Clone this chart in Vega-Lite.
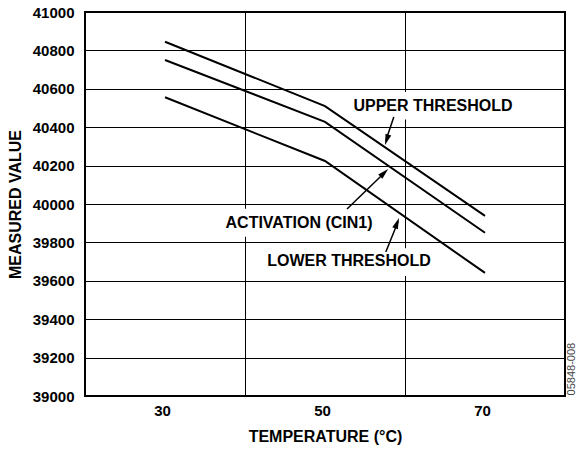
{
  "$schema": "https://vega.github.io/schema/vega-lite/v6.json",
  "width": 480,
  "height": 384,
  "autosize": {"type": "none"},
  "padding": {"left": 85, "top": 12, "right": 15, "bottom": 55},
  "background": "white",
  "config": {
    "view": {"stroke": "black", "strokeWidth": 2},
    "font": "Liberation Sans",
    "axis": {
      "domain": false,
      "ticks": false,
      "grid": true,
      "gridColor": "black",
      "gridWidth": 1,
      "labelFont": "Liberation Sans",
      "labelFontWeight": "bold",
      "labelFontSize": 15,
      "labelColor": "black",
      "labelOverlap": false,
      "titleFont": "Liberation Sans",
      "titleFontWeight": "bold",
      "titleFontSize": 16,
      "titleColor": "black"
    }
  },
  "datasets": {
    "curves": [
      {"series": "Upper", "temp": 30, "value": 40845},
      {"series": "Upper", "temp": 50, "value": 40510},
      {"series": "Upper", "temp": 70, "value": 39938},
      {"series": "Activation", "temp": 30, "value": 40750},
      {"series": "Activation", "temp": 50, "value": 40428},
      {"series": "Activation", "temp": 70, "value": 39850},
      {"series": "Lower", "temp": 30, "value": 40556},
      {"series": "Lower", "temp": 50, "value": 40224},
      {"series": "Lower", "temp": 70, "value": 39641}
    ],
    "boxes": [
      {"x1": 53.4, "x2": 73.8, "y1": 40583, "y2": 40440},
      {"x1": 36.8, "x2": 52.4, "y1": 39975, "y2": 39830},
      {"x1": 40.8, "x2": 64.6, "y1": 39770, "y2": 39625}
    ],
    "labels": [
      {"label": "UPPER THRESHOLD", "temp": 63.5, "value": 40510},
      {"label": "ACTIVATION (CIN1)", "temp": 46.75, "value": 39901},
      {"label": "LOWER THRESHOLD", "temp": 53.0, "value": 39703}
    ],
    "arrows": [
      {"name": "Upper", "x1": 58.6, "y1": 40453, "x2": 57.6, "y2": 40330},
      {"name": "Activation", "x1": 52.75, "y1": 39974, "x2": 57.5, "y2": 40165},
      {"name": "Lower", "x1": 57.6, "y1": 39750, "x2": 59.15, "y2": 39910}
    ],
    "heads": [
      {"name": "Upper", "temp": 57.5, "value": 40307},
      {"name": "Activation", "temp": 57.9, "value": 40182},
      {"name": "Lower", "temp": 59.25, "value": 39927}
    ],
    "code": [
      {"label": "05848-008", "temp": 80.9, "value": 39140}
    ]
  },
  "layer": [
    {
      "data": {"name": "curves"},
      "mark": {"type": "line", "stroke": "black", "strokeWidth": 2},
      "encoding": {
        "x": {
          "field": "temp", "type": "quantitative",
          "scale": {"domain": [20, 80], "nice": false, "zero": false},
          "axis": {
            "values": [30, 40, 50, 60, 70],
            "tickCount": 12,
            "labelExpr": "datum.value % 20 == 10 ? datum.label : ''",
            "gridOpacity": {"condition": {"test": "datum.value == 40 || datum.value == 60", "value": 1}, "value": 0},
            "labelPadding": 7,
            "labelOffset": -3,
            "title": "TEMPERATURE (°C)",
            "titlePadding": 10
          }
        },
        "y": {
          "field": "value", "type": "quantitative",
          "scale": {"domain": [39000, 41000], "nice": false, "zero": false},
          "axis": {
            "values": [39000, 39200, 39400, 39600, 39800, 40000, 40200, 40400, 40600, 40800, 41000],
            "tickCount": 12,
            "format": "d",
            "labelPadding": 11,
            "title": "MEASURED VALUE",
            "titlePadding": 9
          }
        },
        "detail": {"field": "series"}
      }
    },
    {
      "data": {"name": "boxes"},
      "mark": {"type": "rect", "fill": "white"},
      "encoding": {
        "x": {"field": "x1", "type": "quantitative"},
        "x2": {"field": "x2"},
        "y": {"field": "y1", "type": "quantitative"},
        "y2": {"field": "y2"}
      }
    },
    {
      "data": {"name": "labels"},
      "mark": {"type": "text", "font": "Liberation Sans", "fontWeight": "bold", "fontSize": 16, "align": "center", "baseline": "middle", "color": "black"},
      "encoding": {
        "x": {"field": "temp", "type": "quantitative"},
        "y": {"field": "value", "type": "quantitative"},
        "text": {"field": "label"}
      }
    },
    {
      "data": {"name": "arrows"},
      "mark": {"type": "rule", "stroke": "black", "strokeWidth": 1.5},
      "encoding": {
        "x": {"field": "x1", "type": "quantitative"},
        "y": {"field": "y1", "type": "quantitative"},
        "x2": {"field": "x2"},
        "y2": {"field": "y2"}
      }
    },
    {
      "data": {"name": "heads"},
      "transform": [{"filter": "datum.name == 'Upper'"}],
      "mark": {"type": "point", "filled": true, "color": "black", "opacity": 1, "size": 100, "angle": 198, "shape": "M0,0L-0.6,2.2L0.6,2.2Z"},
      "encoding": {
        "x": {"field": "temp", "type": "quantitative"},
        "y": {"field": "value", "type": "quantitative"}
      }
    },
    {
      "data": {"name": "heads"},
      "transform": [{"filter": "datum.name == 'Activation'"}],
      "mark": {"type": "point", "filled": true, "color": "black", "opacity": 1, "size": 100, "angle": 46, "shape": "M0,0L-0.6,2.2L0.6,2.2Z"},
      "encoding": {
        "x": {"field": "temp", "type": "quantitative"},
        "y": {"field": "value", "type": "quantitative"}
      }
    },
    {
      "data": {"name": "heads"},
      "transform": [{"filter": "datum.name == 'Lower'"}],
      "mark": {"type": "point", "filled": true, "color": "black", "opacity": 1, "size": 100, "angle": 21, "shape": "M0,0L-0.6,2.2L0.6,2.2Z"},
      "encoding": {
        "x": {"field": "temp", "type": "quantitative"},
        "y": {"field": "value", "type": "quantitative"}
      }
    },
    {
      "data": {"name": "code"},
      "mark": {"type": "text", "font": "Liberation Sans", "fontSize": 11, "angle": 270, "align": "center", "baseline": "middle", "color": "#444444"},
      "encoding": {
        "x": {"field": "temp", "type": "quantitative"},
        "y": {"field": "value", "type": "quantitative"},
        "text": {"field": "label"}
      }
    }
  ]
}
